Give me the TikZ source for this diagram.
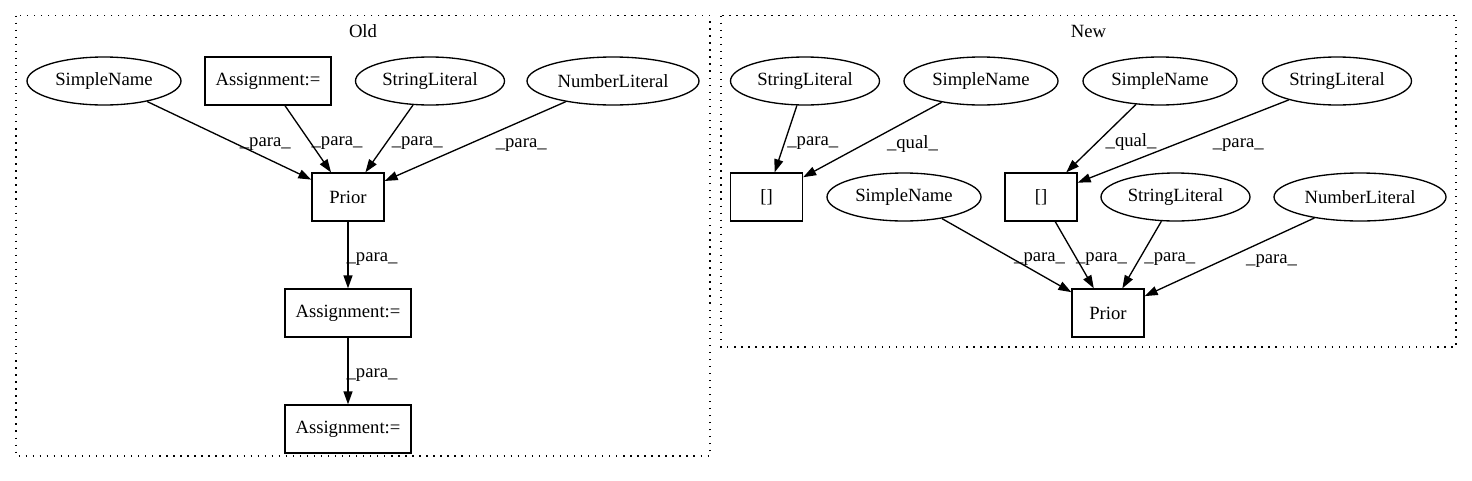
\documentclass[tikz,border=0pt]{standalone}
\usepackage{fontspec}
\setmainfont{Liberation Serif}
\usetikzlibrary{shapes.geometric, arrows.meta}

\tikzset{
    every node/.style={font=\fontsize{18.67}{22}\selectfont},
    ell/.style={draw, ellipse, line width=1.33pt, minimum height=48pt, inner sep=0pt},
    box/.style={draw, rectangle, line width=1.33pt, minimum height=48pt, inner sep=0pt},
    flow/.style={->, line width=1.33pt},
    lbl/.style={inner sep=0pt, yshift=-4pt},
    cluster/.style={draw, line width=1.33pt, dash pattern=on 1.33pt off 5.7pt}
}

\begin{document}
\begin{tikzpicture}[x=1pt, y=-1pt, >={Triangle[length=13pt, width=9pt]}]
        \useasboundingbox (0,0) rectangle (1472,480);
        % clusters
        \draw[cluster] (16,15.7) rectangle (710,456);
        \draw[cluster] (721,15.7) rectangle (1456,347);
        \node (told) at (363,31) {Old};
        \node (tnew) at (1088.5,31) {New};
        % old
        \node[ell, minimum width=154pt] (osn) at (104,81) {SimpleName};
        \node[box, minimum width=126pt] (oasg) at (268,81) {Assignment:=};
        \node[ell, minimum width=149pt] (osl) at (430,81) {StringLiteral};
        \node[ell, minimum width=172pt] (onl) at (613,81) {NumberLiteral};
        \node[box, minimum width=72pt] (oprior) at (348,197) {Prior};
        \node[box, minimum width=126pt] (oasgb) at (348,313) {Assignment:=};
        \node[box, minimum width=126pt] (oasgc) at (348,429) {Assignment:=};
        \draw[flow] (osn) -- node[lbl, xshift=36pt] {\_para\_} (oprior);
        \draw[flow] (oasg) -- node[lbl, xshift=29pt] {\_para\_} (oprior);
        \draw[flow] (osl) -- node[lbl, xshift=28pt] {\_para\_} (oprior);
        \draw[flow] (onl) -- node[lbl, xshift=46pt] {\_para\_} (oprior);
        \draw[flow] (oprior) -- node[lbl, xshift=24pt] {\_para\_} (oasgb);
        \draw[flow] (oasgb) -- node[lbl, xshift=24pt] {\_para\_} (oasgc);
        % new
        \node[ell, minimum width=149pt] (nsla) at (805,81) {StringLiteral};
        \node[ell, minimum width=154pt] (nsna) at (981,81) {SimpleName};
        \node[ell, minimum width=154pt] (nsnb) at (1160,81) {SimpleName};
        \node[ell, minimum width=149pt] (nslb) at (1337,81) {StringLiteral};
        \node[box, minimum width=72pt] (nidxa) at (766.5,197) {[]};
        \node[ell, minimum width=154pt] (nsnc) at (904,197) {SimpleName};
        \node[box, minimum width=72pt] (nidxb) at (1041,197) {[]};
        \node[ell, minimum width=149pt] (nslc) at (1175.5,197) {StringLiteral};
        \node[ell, minimum width=172pt] (nnl) at (1360,197) {NumberLiteral};
        \node[box, minimum width=72pt] (nprior) at (1108,313) {Prior};
        \draw[flow] (nsla) -- node[lbl, xshift=27pt] {\_para\_} (nidxa);
        \draw[flow] (nsna) -- node[lbl, xshift=40pt] {\_qual\_} (nidxa);
        \draw[flow] (nsnb) -- node[lbl, xshift=30pt] {\_qual\_} (nidxb);
        \draw[flow] (nslb) -- node[lbl, xshift=55pt] {\_para\_} (nidxb);
        \draw[flow] (nsnc) -- node[lbl, xshift=33pt] {\_para\_} (nprior);
        \draw[flow] (nidxb) -- node[lbl, xshift=27pt] {\_para\_} (nprior);
        \draw[flow] (nslc) -- node[lbl, xshift=28pt] {\_para\_} (nprior);
        \draw[flow] (nnl) -- node[lbl, xshift=42pt] {\_para\_} (nprior);
\end{tikzpicture}
\end{document}
